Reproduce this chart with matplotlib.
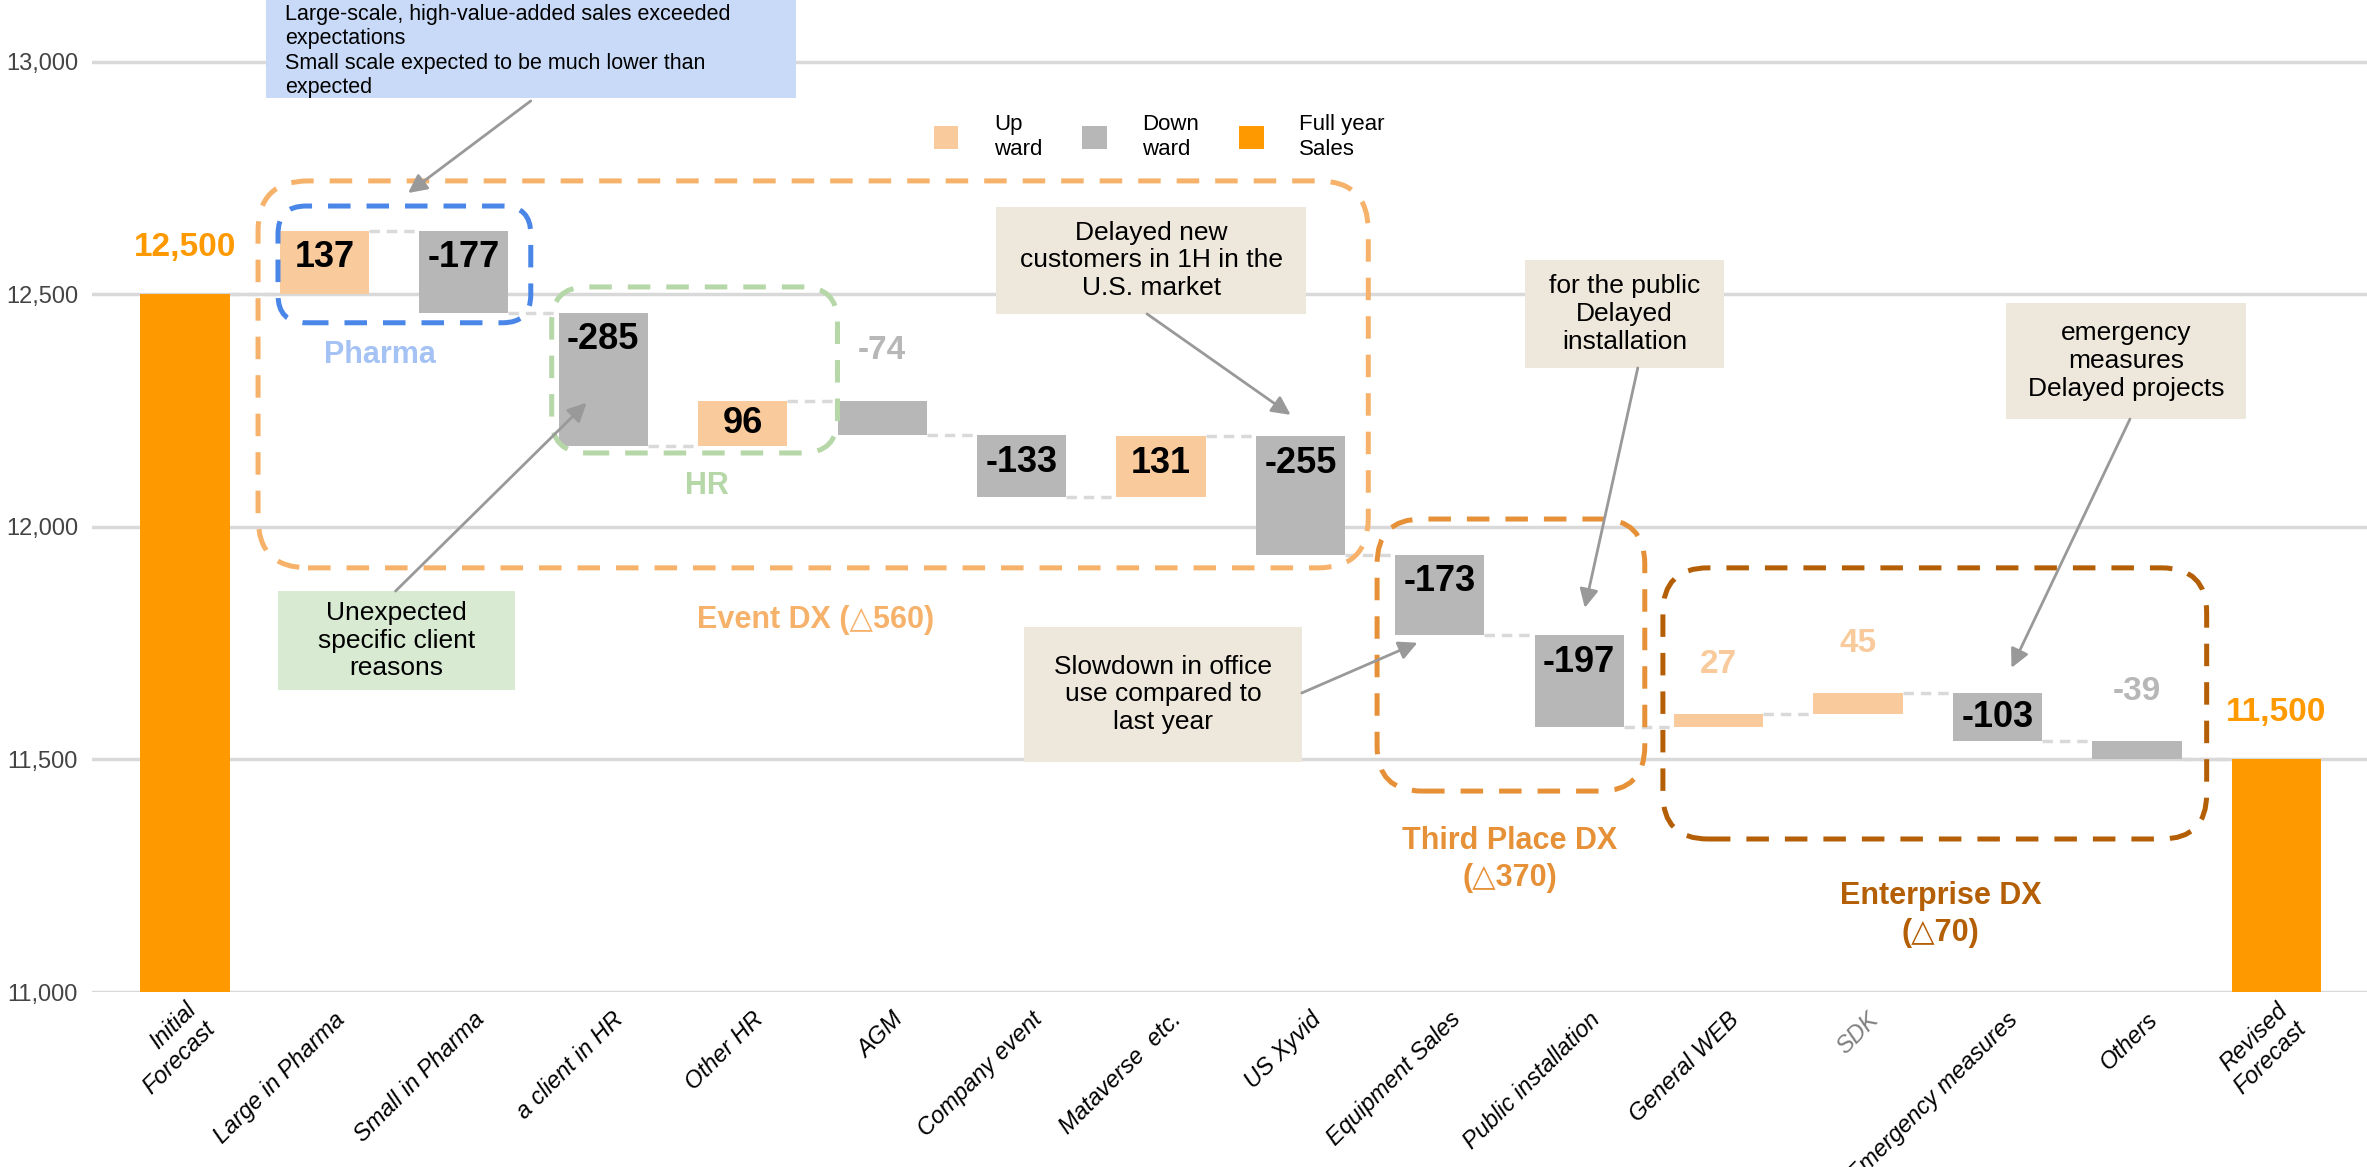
import numpy as np
import matplotlib.pyplot as plt
import matplotlib.transforms as mtransforms
from matplotlib.patches import FancyBboxPatch, Rectangle, Patch
from matplotlib.ticker import FuncFormatter

plt.rcParams['font.family'] = ['Liberation Sans', 'DejaVu Sans']

# sales bridge: initial forecast -> revised forecast
categories = ['Initial\nForecast', 'Large in Pharma', 'Small in Pharma', 'a client in HR',
              'Other HR', 'AGM', 'Company event', 'Mataverse  etc.', 'US Xyvid',
              'Equipment Sales', 'Public installation', 'General WEB', 'SDK',
              'Emergency measures', 'Others', 'Revised\nForecast']
initial_forecast = 12500
deltas = [137, -177, -285, 96, -74, -133, 131, -255, -173, -197, 27, 45, -103, -39]
yticks = [11000, 11500, 12000, 12500, 13000]

legend_labels = ['Up\nward', 'Down\nward', 'Full year\nSales']

COL_UP = '#F9CB9C'
COL_DOWN = '#B7B7B7'
COL_TOTAL = '#FF9900'
COL_EVENT = '#F6B26B'
COL_THIRD = '#E69138'
COL_ENT = '#B45F06'
COL_PHARMA = '#4A86E8'
COL_HR = '#B6D7A8'
COL_NOTE = '#EEE7DC'

levels = initial_forecast + np.concatenate([[0], np.cumsum(deltas)])
revised_forecast = levels[-1]
x = np.arange(len(categories))
width = 0.64

fig = plt.figure(figsize=(23.67, 11.67), dpi=100)
ax = fig.add_axes([92 / 2367, 175 / 1167, 1 - 92 / 2367, 992 / 1167])
ax.set_xlim(-0.667, 15.65)
ax.set_ylim(11000, 13133)

# totals
ax.bar([x[0], x[-1]], [initial_forecast, revised_forecast], width=width, color=COL_TOTAL, zorder=3)
for xi, val in [(x[0], initial_forecast), (x[-1], revised_forecast)]:
    ax.text(xi, val + 100, f'{val:,.0f}', ha='center', va='center', color=COL_TOTAL,
            fontsize=24, fontweight='bold', zorder=5)

# changes
for i, d in enumerate(deltas):
    xi = x[i + 1]
    lo = min(levels[i], levels[i + 1])
    ax.bar(xi, abs(d), bottom=lo, width=width, color=COL_UP if d > 0 else COL_DOWN, zorder=3)
    top = lo + abs(d)
    if abs(d) >= 90:
        ax.text(xi, top - min(abs(d) / 2, 58), f'{d}', ha='center', va='center',
                fontsize=26, fontweight='bold', color='black', zorder=5)
    else:
        ax.text(xi, top + 108, f'{d}', ha='center', va='center', fontsize=24,
                fontweight='bold', color=COL_UP if d > 0 else COL_DOWN, zorder=5)

# dashed connectors between bars
for i in range(len(categories) - 1):
    ax.plot([x[i] + width / 2, x[i + 1] - width / 2], [levels[i], levels[i]],
            color='#D9D9D9', lw=2.5, ls=(0, (3, 2)), zorder=2)

# axes styling
ax.set_yticks(yticks)
ax.yaxis.set_major_formatter(FuncFormatter(lambda v, p: f'{v:,.0f}'))
ax.tick_params(axis='y', length=0, pad=10, labelsize=17, labelcolor='#444444')
ax.yaxis.grid(True, color='#D9D9D9', lw=2.5)
ax.set_axisbelow(True)
for s in ax.spines.values():
    s.set_visible(False)

ax.set_xticks(x)
ax.set_xticklabels(categories, rotation=45, ha='right', va='center',
                   rotation_mode='anchor', fontsize=17, style='italic')
ax.tick_params(axis='x', length=0, pad=0)
shift = mtransforms.ScaledTranslation(17 / 100, -24 / 100, fig.dpi_scale_trans)
for lbl in ax.get_xticklabels():
    lbl.set_transform(lbl.get_transform() + shift)
    if lbl.get_text() == 'SDK':
        lbl.set_color('#7F7F7F')

# pixel -> data scaling so rounded corners stay circular
p0 = ax.transData.transform((0, 11000))
p1 = ax.transData.transform((1, 11001))
px_x = p1[0] - p0[0]
px_y = p1[1] - p0[1]
aspect = px_x / px_y


def group_box(x0, x1, y0, y1, color, radius_px):
    box = FancyBboxPatch((x0, y0), x1 - x0, y1 - y0,
                         boxstyle=f'round,pad=0,rounding_size={radius_px / px_x}',
                         mutation_aspect=aspect, fill=False, edgecolor=color,
                         lw=3.6, ls=(0, (4.5, 3.2)), zorder=4)
    ax.add_patch(box)


group_box(0.524, 8.487, 11912, 12744, COL_EVENT, 50)
group_box(0.667, 2.48, 12439, 12690, COL_PHARMA, 28)
group_box(2.63, 4.68, 12159, 12516, COL_HR, 35)
group_box(8.55, 10.47, 11432, 12017, COL_THIRD, 45)
group_box(10.60, 14.50, 11329, 11912, COL_ENT, 45)

ax.text(1.40, 12370, 'Pharma', ha='center', va='center', fontsize=22, fontweight='bold', color='#A4C2F4')
ax.text(3.74, 12088, 'HR', ha='center', va='center', fontsize=22, fontweight='bold', color=COL_HR)
ax.text(4.52, 11800, 'Event DX (△560)', ha='center', va='center', fontsize=22,
        fontweight='bold', color=COL_EVENT)
ax.text(9.50, 11284, 'Third Place DX\n(△370)', ha='center', va='center', fontsize=22,
        fontweight='bold', color=COL_THIRD, linespacing=1.3)
ax.text(12.59, 11166, 'Enterprise DX\n(△70)', ha='center', va='center', fontsize=22,
        fontweight='bold', color=COL_ENT, linespacing=1.3)


def note(x0, x1, y0, y1, text, color, tail, head, ha='center', tx=None, ty=None, size=19):
    ax.add_patch(Rectangle((x0, y0), x1 - x0, y1 - y0, facecolor=color, edgecolor='none', zorder=6))
    if tx is None:
        tx = (x0 + x1) / 2
    if ty is None:
        ty = (y0 + y1) / 2
    ax.text(tx, ty, text, ha=ha, va='center' if ha == 'center' else 'top', fontsize=size,
            linespacing=1.2, color='black', zorder=7)
    ax.annotate('', xy=head, xytext=tail, zorder=7,
                arrowprops=dict(arrowstyle='-|>', color='#999999', lw=2, mutation_scale=28,
                                shrinkA=0, shrinkB=0))


note(0.58, 4.38, 12923, 13140,
     'Large-scale, high-value-added sales exceeded\nexpectations\n'
     'Small scale expected to be much lower than\nexpected',
     '#C9DAF8', (2.48, 12916), (1.60, 12718), ha='left', tx=0.717, ty=13124, size=15.5)
note(5.82, 8.04, 12458, 12688, 'Delayed new\ncustomers in 1H in the\nU.S. market',
     COL_NOTE, (6.90, 12458), (7.93, 12241))
note(9.61, 11.04, 12342, 12574, 'for the public\nDelayed\ninstallation',
     COL_NOTE, (10.42, 12342), (10.04, 11826))
note(13.06, 14.78, 12232, 12482, 'emergency\nmeasures\nDelayed projects',
     COL_NOTE, (13.95, 12232), (13.10, 11697))
note(0.667, 2.37, 11649, 11862, 'Unexpected\nspecific client\nreasons',
     '#D9EAD3', (1.51, 11862), (2.88, 12267))
note(6.02, 8.01, 11495, 11785, 'Slowdown in office\nuse compared to\nlast year',
     COL_NOTE, (8.01, 11643), (8.84, 11751))

# legend
handles = [Patch(facecolor=c, edgecolor='none') for c in (COL_UP, COL_DOWN, COL_TOTAL)]
ax.legend(handles, legend_labels, ncol=3, loc='center left',
          bbox_to_anchor=(934 / 2367, 1 - 137 / 1167), bbox_transform=fig.transFigure,
          frameon=False, fontsize=16, handlelength=1.1, handleheight=1.2,
          handletextpad=1.6, columnspacing=1.8, borderpad=0, borderaxespad=0)

fig.savefig('out.png', dpi=100)
